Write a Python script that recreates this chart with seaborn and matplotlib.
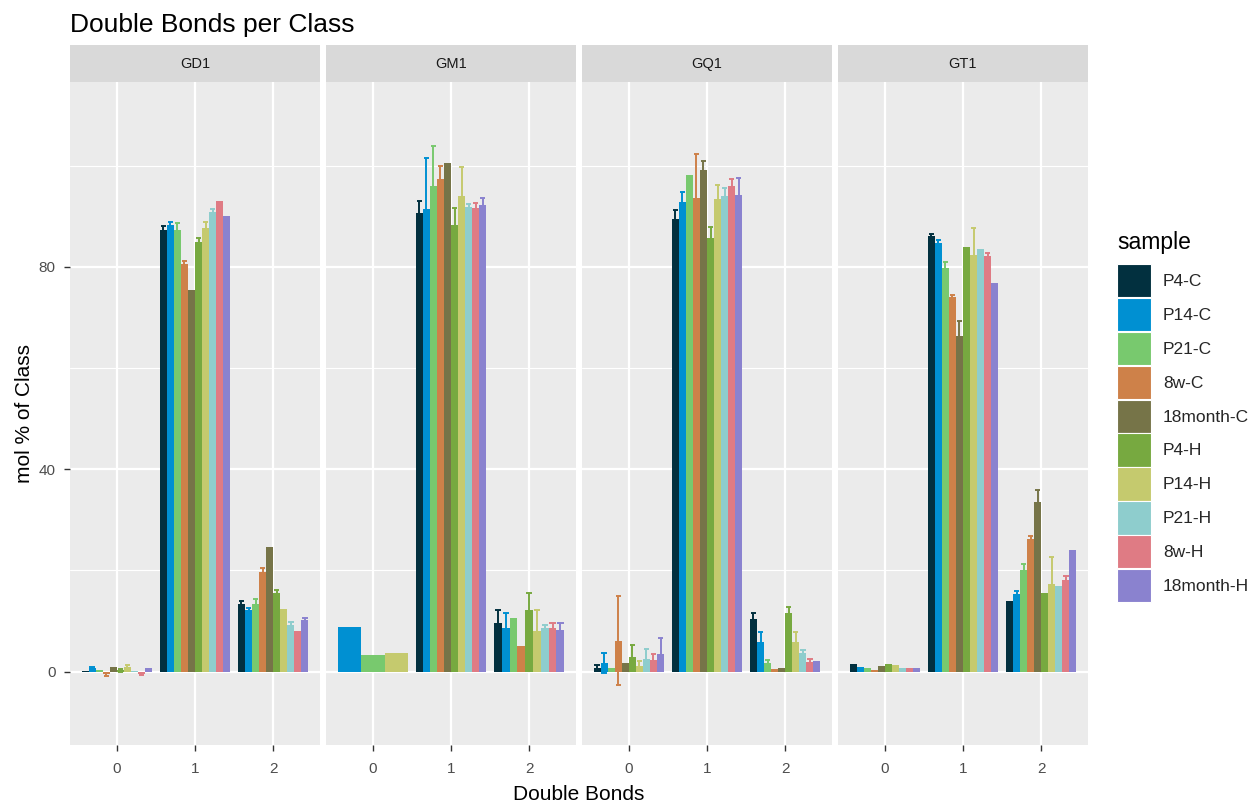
import numpy as np
import pandas as pd
import matplotlib
matplotlib.use("Agg")
import matplotlib.pyplot as plt
from matplotlib.patches import Patch, Rectangle
from matplotlib.ticker import FixedLocator
import seaborn as sns

# ---- data -------------------------------------------------------------
samples = ["P4-C", "P14-C", "P21-C", "8w-C", "18month-C",
           "P4-H", "P14-H", "P21-H", "8w-H", "18month-H"]
palette = ["#02303F", "#0090D2", "#78C96E", "#CE8149", "#767448",
           "#77A940", "#C5CA6E", "#8ECDCD", "#DF7B84", "#8A82CF"]
classes = ["GD1", "GM1", "GQ1", "GT1"]
double_bonds = [0, 1, 2]

nan = np.nan
# rows: number of double bonds (0, 1, 2); columns: samples in the order above
gd1_mean = [
    [0.1, 0.7, 0.3, -0.5, 0.9, 0.3, 0.9, 0.2, -0.4, 0.7],
    [87.2, 88.3, 87.2, 80.5, 75.4, 84.8, 87.7, 90.9, 92.9, 90.0],
    [13.3, 12.1, 13.3, 19.7, 24.7, 15.6, 12.4, 9.2, 8.1, 10.2],
]
gd1_sd = [
    [nan, 0.3, nan, 0.3, nan, 0.3, 0.4, nan, 0.2, nan],
    [0.8, 0.6, 1.4, 0.7, nan, 0.8, 1.1, 0.6, nan, nan],
    [0.6, 0.4, 1.1, 0.8, nan, 0.5, nan, 0.6, nan, 0.4],
]
gm1_mean = [
    [nan, 8.9, 3.3, nan, nan, nan, 3.6, nan, nan, nan],
    [90.7, 91.5, 96.0, 97.4, 100.4, 88.3, 93.9, 91.9, 91.6, 92.1],
    [9.7, 8.7, 10.5, 5.0, nan, 12.2, 8.1, 8.7, 8.7, 8.3],
]
gm1_sd = [
    [nan, nan, nan, nan, nan, nan, nan, nan, nan, nan],
    [2.2, 9.9, 7.8, 2.5, nan, 3.4, 5.8, 0.4, 1.0, 1.4],
    [2.5, 2.9, nan, nan, nan, 3.4, 4.0, 0.5, 0.9, 1.3],
]
gq1_mean = [
    [0.8, 1.7, 0.7, 6.1, 1.7, 2.9, 1.2, 2.5, 2.3, 3.4],
    [89.5, 92.7, 98.2, 93.6, 99.2, 85.7, 93.3, 93.9, 96.0, 94.2],
    [10.4, 5.8, 1.8, 0.5, 0.8, 11.6, 5.8, 3.7, 1.9, 2.1],
]
gq1_sd = [
    [0.5, 2.0, nan, 8.8, nan, 2.3, 0.8, 2.0, 1.1, 3.3],
    [1.7, 2.0, nan, 8.7, 1.7, 2.2, 2.8, 1.6, 1.3, 3.4],
    [1.2, 2.0, 0.5, nan, nan, 1.2, 2.0, 0.5, 0.6, nan],
]
gt1_mean = [
    [1.5, 1.0, 0.7, 0.4, 1.2, 1.5, 1.3, 0.7, 0.7, 0.7],
    [86.0, 84.6, 79.8, 74.0, 66.4, 83.8, 82.4, 83.6, 82.2, 76.8],
    [13.9, 15.4, 20.1, 26.3, 33.6, 15.5, 17.4, 17.0, 18.1, 24.0],
]
gt1_sd = [
    [nan, nan, nan, nan, nan, nan, nan, nan, nan, nan],
    [0.5, 0.7, 1.1, 0.5, 2.8, nan, 5.3, nan, 0.5, nan],
    [nan, 0.5, 1.2, 0.5, 2.2, nan, 5.2, nan, 0.8, nan],
]

means = {"GD1": gd1_mean, "GM1": gm1_mean, "GQ1": gq1_mean, "GT1": gt1_mean}
sds = {"GD1": gd1_sd, "GM1": gm1_sd, "GQ1": gq1_sd, "GT1": gt1_sd}

rows = []
for cls in classes:
    for bi, b in enumerate(double_bonds):
        for si, s in enumerate(samples):
            rows.append((cls, b, s, means[cls][bi][si], sds[cls][bi][si]))
df = pd.DataFrame(rows, columns=["cls", "bonds", "sample", "mol", "sd"])
colour_of = dict(zip(samples, palette))

# ---- style ------------------------------------------------------------
sns.set_theme(style="darkgrid")
plt.rcParams["font.family"] = ["Liberation Sans", "DejaVu Sans"]
PANEL_BG = "#EBEBEB"
STRIP_BG = "#D9D9D9"


def dodged_bars(data, **kws):
    """Bars dodged within each double-bond group; absent samples free up space."""
    ax = plt.gca()
    for b, grp in data.groupby("bonds"):
        grp = grp.dropna(subset=["mol"])
        n = len(grp)
        if n == 0:
            continue
        w = 0.9 / n
        for i, (_, row) in enumerate(grp.iterrows()):
            x = b - 0.45 + w * (i + 0.5)
            col = colour_of[row["sample"]]
            ax.bar(x, row["mol"], width=w, color=col, linewidth=0, zorder=3)
            if not np.isnan(row["sd"]):
                lo, hi = row["mol"] - row["sd"], row["mol"] + row["sd"]
                cw = w * 0.8
                ax.vlines(x, lo, hi, color=col, lw=1.4, zorder=2.5)
                ax.hlines([lo, hi], x - cw / 2, x + cw / 2, color=col,
                          lw=1.4, zorder=2.5)


g = sns.FacetGrid(df, col="cls", col_order=classes, sharex=True, sharey=True,
                  height=6, aspect=0.5, despine=False)
g.map_dataframe(dodged_bars)
fig = g.figure
fig.set_size_inches(12.59, 8.05)
fig.set_dpi(100)
fig.patch.set_facecolor("white")

W, H = 1259, 805
fig.subplots_adjust(left=70 / W, right=1088 / W, top=1 - 82 / H,
                    bottom=1 - 745 / H, wspace=6 / 250)
g.set_titles("")

strip_h = 37 / 663
for k, (ax, cls) in enumerate(zip(g.axes.flat, classes)):
    ax.set_facecolor(PANEL_BG)
    ax.set_xlim(-0.6, 2.6)
    ax.set_ylim(-14.5, 116.5)
    ax.set_xticks(double_bonds)
    ax.set_xticklabels([str(b) for b in double_bonds])
    ax.yaxis.set_major_locator(FixedLocator([0, 40, 80]))
    ax.yaxis.set_minor_locator(FixedLocator([20, 60, 100]))
    ax.grid(which="major", color="white", lw=1.6, zorder=0)
    ax.grid(which="minor", axis="y", color="white", lw=0.8, zorder=0)
    ax.set_axisbelow(True)
    for sp in ax.spines.values():
        sp.set_visible(False)
    ax.tick_params(axis="both", which="major", direction="out", length=4.5,
                   width=1.0, color="#333333", labelcolor="#4D4D4D",
                   labelsize=11, pad=6, bottom=True, left=(k == 0),
                   labelleft=(k == 0))
    ax.tick_params(axis="x", which="major", pad=8)
    ax.tick_params(axis="y", which="minor", length=0)
    ax.set_xlabel("")
    ax.set_ylabel("")
    ax.add_patch(Rectangle((0, 1), 1, strip_h, transform=ax.transAxes,
                           facecolor=STRIP_BG, edgecolor="none",
                           clip_on=False, zorder=5))
    ax.text(0.5, 1 + strip_h / 2, cls, transform=ax.transAxes, ha="center",
            va="center", fontsize=10.5, color="#1A1A1A", zorder=6)

fig.text(70 / W, 1 - 25 / H, "Double Bonds per Class", ha="left",
         va="center", fontsize=19, color="black")
fig.text(579 / W, 1 - 794 / H, "Double Bonds", ha="center", va="center",
         fontsize=15, color="black")
fig.text(25 / W, 1 - 413 / H, "mol % of Class", ha="center", va="center",
         rotation=90, fontsize=15, color="black")

# legend: title set as its own text so the key column can sit a little lower
fig.text(1117 / W, 1 - 243 / H, "sample", ha="left", va="center",
         fontsize=16.5, color="black")
handles = [Patch(facecolor=c, edgecolor="white", linewidth=0.8)
           for c in palette]
fig.legend(handles, samples, loc="upper left",
           bbox_to_anchor=(1117 / W, 1 - 264 / H), frameon=False,
           fontsize=12.5, handlelength=1.95,
           handleheight=2.58, labelspacing=0.03, handletextpad=0.7,
           borderpad=0, borderaxespad=0)

fig.savefig("out.png", dpi=100)
